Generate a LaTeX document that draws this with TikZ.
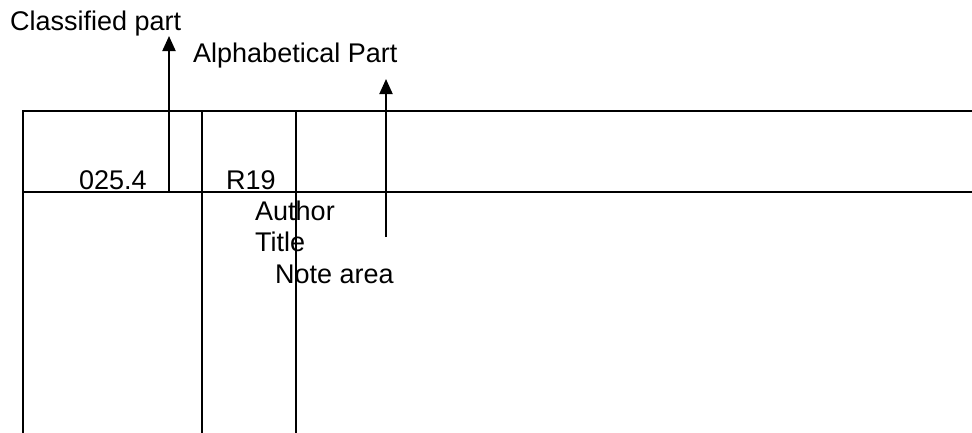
\documentclass[tikz,border=0pt]{standalone}
\usepackage{fontspec}
\setmainfont{Liberation Sans}
\usetikzlibrary{arrows.meta}
\begin{document}
\begin{tikzpicture}[x=1pt,y=-1pt,
  rule/.style={line width=2pt,line cap=rect},
  lbl/.style={inner sep=0pt,anchor=base west,font=\fontsize{27}{31}\selectfont},
  pointer/.style={line width=2pt,-{Triangle[length=15pt,width=13pt]}}]
\useasboundingbox (0,0) rectangle (972,432);
% table rules
\draw[rule] (23,111) -- (972,111);
\draw[rule] (23,192) -- (972,192);
\draw[rule] (23,111) -- (23,432);
\draw[rule] (202,111) -- (202,432);
\draw[rule] (296,111) -- (296,432);
% labels
\node[lbl] (cls) at (10,30) {Classified part};
\node[lbl] (alp) at (193,62.5) {Alphabetical Part};
\node[lbl] (num) at (79,189) {025.4};
\node[lbl] (rnum) at (226,189) {R19};
\node[lbl] (aut) at (255,220) {Author};
\node[lbl] (tit) at (255,251.5) {Title};
\node[lbl] (note) at (275,283) {Note area};
% arrows
\coordinate (c1s) at (169,192);
\coordinate (c1e) at (169,36);
\coordinate (c2s) at (386,237);
\coordinate (c2e) at (386,79);
\draw[pointer] (c1s) -- (c1e);
\draw[pointer] (c2s) -- (c2e);
\end{tikzpicture}
\end{document}
